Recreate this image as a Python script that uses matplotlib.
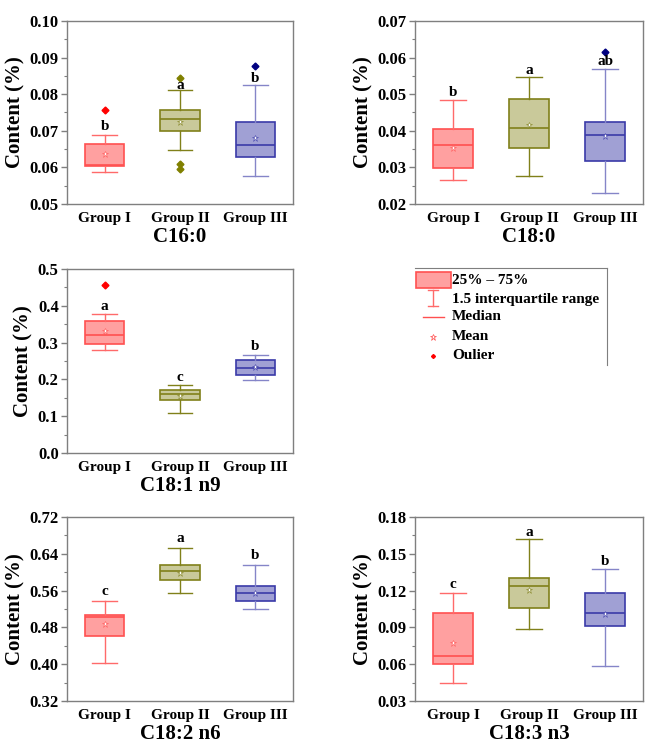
import matplotlib
matplotlib.use('Agg')
import matplotlib.pyplot as plt
from matplotlib.patches import Rectangle
from matplotlib.ticker import MultipleLocator, AutoMinorLocator

plt.rcParams['font.family'] = ['Liberation Serif', 'DejaVu Serif']
plt.rcParams['font.weight'] = 'bold'

groups = ['Group I', 'Group II', 'Group III']

# panel titles and y ranges
titles = ['C16:0', 'C18:0', 'C18:1 n9', 'C18:2 n6', 'C18:3 n3']
ylims = [(0.05, 0.10), (0.02, 0.07), (0.0, 0.5), (0.32, 0.72), (0.03, 0.18)]
ysteps = [0.01, 0.01, 0.1, 0.08, 0.03]
yfmt = ['%.2f', '%.2f', '%.1f', '%.2f', '%.2f']

# box statistics (per panel, per group)
whislo = [[0.0587, 0.0648, 0.0576], [0.0265, 0.0277, 0.0231], [0.280, 0.110, 0.198],
          [0.402, 0.555, 0.520], [0.0447, 0.0887, 0.0588]]
q1 = [[0.0605, 0.0699, 0.0629], [0.0297, 0.0352, 0.0318], [0.297, 0.145, 0.211],
      [0.461, 0.582, 0.537], [0.0599, 0.1055, 0.0909]]
med = [[0.0607, 0.0731, 0.0661], [0.0362, 0.0407, 0.0389], [0.322, 0.159, 0.230],
       [0.503, 0.602, 0.555], [0.0667, 0.1238, 0.1017]]
q3 = [[0.0665, 0.0756, 0.0725], [0.0404, 0.0486, 0.0425], [0.359, 0.170, 0.252],
      [0.508, 0.616, 0.569], [0.102, 0.130, 0.1178]]
whishi = [[0.0689, 0.0812, 0.0826], [0.0484, 0.0546, 0.0569], [0.379, 0.186, 0.266],
          [0.537, 0.653, 0.616], [0.118, 0.162, 0.1379]]
means = [[0.0637, 0.0724, 0.0680], [0.0352, 0.0416, 0.0385], [0.331, 0.156, 0.233],
         [0.488, 0.599, 0.555], [0.077, 0.1205, 0.1006]]
fliers = [[[0.0756], [0.0845, 0.0608, 0.0595], [0.0876]],
          [[], [], [0.0615]],
          [[0.456], [], []],
          [[], [], []],
          [[], [], []]]

# significance letters and their heights
letters = [['b', 'a', 'b'], ['b', 'a', 'ab'], ['a', 'c', 'b'], ['c', 'a', 'b'], ['c', 'a', 'b']]
letter_y = [[0.0711, 0.0825, 0.0843], [0.0504, 0.0564, 0.0589], [0.397, 0.204, 0.289],
            [0.558, 0.673, 0.636], [0.1248, 0.1675, 0.1439]]

face = ['#ffa0a0', '#c9c99a', '#a0a0d4']
edge = ['#ff5050', '#80801a', '#3a3aa8']
whisk = ['#ff6a6a', '#80801a', '#8585c8']
flier_c = ['#ff0000', '#808000', '#000080']

fig = plt.figure(figsize=(6.66, 7.53), dpi=100)
W, H = 666, 753
rects = [(67, 21, 226, 183), (415, 21, 228, 183), (67, 269, 226, 184),
         (67, 517, 226, 184), (415, 517, 228, 184)]

gray = '#7f7f7f'
for p, (x0, y0, w, h) in enumerate(rects):
    ax = fig.add_axes([x0 / W, 1 - (y0 + h) / H, w / W, h / H])
    for i in range(3):
        st = [dict(med=med[p][i], q1=q1[p][i], q3=q3[p][i], whislo=whislo[p][i],
                   whishi=whishi[p][i], mean=means[p][i], fliers=[])]
        ax.bxp(st, positions=[i + 1], widths=0.52, showmeans=True, patch_artist=True,
               boxprops=dict(facecolor=face[i], edgecolor=edge[i], linewidth=1.2),
               medianprops=dict(color=edge[i], linewidth=1.2),
               whiskerprops=dict(color=whisk[i], linewidth=1.0),
               capprops=dict(color=whisk[i], linewidth=1.0),
               capwidths=0.33,
               meanprops=dict(marker='*', markersize=5, markerfacecolor='white',
                              markeredgecolor=edge[i], markeredgewidth=0.4))
        if fliers[p][i]:
            ax.plot([i + 1] * len(fliers[p][i]), fliers[p][i], 'D', color=flier_c[i],
                    markersize=3.5, linestyle='none')
        ax.text(i + 1, letter_y[p][i], letters[p][i], ha='center', va='center',
                fontsize=11, fontweight='bold')
    ax.set_xlim(0.5, 3.5)
    ax.set_ylim(*ylims[p])
    ax.yaxis.set_major_locator(MultipleLocator(ysteps[p]))
    ax.yaxis.set_minor_locator(AutoMinorLocator(2))
    ax.yaxis.set_major_formatter(plt.FormatStrFormatter(yfmt[p]))
    ax.set_xticks([1, 2, 3])
    ax.set_xticklabels(groups, fontsize=11, fontweight='bold')
    ax.tick_params(axis='x', length=0, pad=6)
    ax.tick_params(axis='y', which='major', length=4, width=1, color=gray, labelsize=12, pad=2)
    ax.tick_params(axis='y', which='minor', length=2, width=0.8, color=gray)
    for s in ax.spines.values():
        s.set_color(gray)
        s.set_linewidth(1.0)
    ax.set_xlabel(titles[p], fontsize=15, fontweight='bold', labelpad=1)
    ax.set_ylabel('Content (%)', fontsize=15, fontweight='bold', labelpad=3)

# legend panel
lx, ly, lw, lh = 415, 268, 192, 97
lg = fig.add_axes([lx / W, 1 - (ly + lh) / H, lw / W, lh / H])
lg.set_xlim(0, 1)
lg.set_ylim(0, 1)
lg.set_xticks([])
lg.set_yticks([])
lg.patch.set_alpha(0)
lg.spines['left'].set_visible(False)
lg.spines['bottom'].set_visible(False)
lg.spines['top'].set_color(gray)
lg.spines['right'].set_color(gray)

lg.add_patch(Rectangle((0.005, 0.794), 0.1825, 0.165, facecolor=face[0],
                       edgecolor=edge[0], linewidth=1.2, clip_on=False))
lg.plot([0.094, 0.094], [0.608, 0.773], color=whisk[0], lw=1)
lg.plot([0.068, 0.120], [0.773, 0.773], color=whisk[0], lw=1)
lg.plot([0.068, 0.120], [0.608, 0.608], color=whisk[0], lw=1)
lg.plot([0.042, 0.151], [0.495, 0.495], color=edge[0], lw=1)
lg.plot([0.094], [0.289], marker='*', markersize=5, markerfacecolor='white',
        markeredgecolor=edge[0], markeredgewidth=0.5)
lg.plot([0.094], [0.093], marker='D', markersize=2, color=flier_c[0])

leg_labels = ['25% \u2013 75%', '1.5 interquartile range', 'Median', 'Mean', 'Oulier']
leg_y = [0.876, 0.680, 0.495, 0.289, 0.093]
for t, yy in zip(leg_labels, leg_y):
    lg.text(0.193, yy, t, fontsize=11, fontweight='bold', va='center', ha='left')

fig.savefig('out.png', dpi=100)
